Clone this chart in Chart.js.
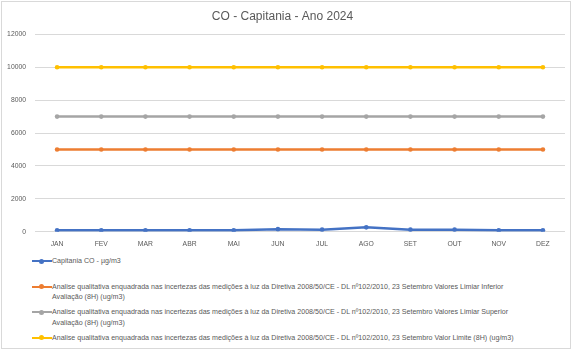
<!DOCTYPE html>
<html>
<head>
<meta charset="utf-8">
<script src="https://cdn.jsdelivr.net/npm/chart.js@4/dist/chart.umd.min.js"></script>
<style>
    html, body { margin: 0; padding: 0; background: #fff; }
    body { width: 576px; height: 350px; position: relative; overflow: hidden; }
    #frame {
        position: absolute; left: 1px; top: 1px;
        width: 568px; height: 346px;
        border: 1px solid #d9d9d9;
    }
    #coChart { position: absolute; left: 0; top: 0; }
    #legend {
        position: absolute; left: 32px; top: 256px; width: 530px;
        font-family: "Liberation Sans", sans-serif;
        font-size: 7.1px; color: #595959;
    }
    .legend-item { display: flex; height: 25.6px; }
    .legend-mark { position: relative; width: 20px; height: 10px; flex: none; }
    .legend-mark .line { position: absolute; left: 0; right: 0; top: 4px; height: 2px; }
    .legend-mark .dot { position: absolute; left: 7px; top: 2.5px; width: 5px; height: 5px; border-radius: 50%; }
    .legend-text { line-height: 10.5px; }
</style>
</head>
<body>
<div id="frame"></div>
<canvas id="coChart" width="576" height="252"></canvas>
<div id="legend"></div>

<script>
// **************************
//    DATA
// **************************
const months = ["JAN", "FEV", "MAR", "ABR", "MAI", "JUN", "JUL", "AGO", "SET", "OUT", "NOV", "DEZ"];

const capitaniaCO = [85, 85, 85, 85, 85, 155, 125, 265, 125, 125, 85, 85];
const limiarInferior = [5000, 5000, 5000, 5000, 5000, 5000, 5000, 5000, 5000, 5000, 5000, 5000];
const limiarSuperior = [7000, 7000, 7000, 7000, 7000, 7000, 7000, 7000, 7000, 7000, 7000, 7000];
const valorLimite = [10000, 10000, 10000, 10000, 10000, 10000, 10000, 10000, 10000, 10000, 10000, 10000];

const yTicks = [0, 2000, 4000, 6000, 8000, 10000, 12000];

const seriesNames = [
    ["Capitania CO - µg/m3"],
    ["Analise qualitativa enquadrada nas incertezas das medições à luz da Diretiva 2008/50/CE -  DL nº102/2010, 23 Setembro Valores Limiar Inferior",
     "Avaliação (8H) (ug/m3)"],
    ["Analise qualitativa enquadrada nas incertezas das medições à luz da Diretiva 2008/50/CE -  DL nº102/2010, 23 Setembro Valores Limiar Superior",
     "Avaliação (8H) (ug/m3)"],
    ["Analise qualitativa enquadrada nas incertezas das medições à luz da Diretiva 2008/50/CE -  DL nº102/2010, 23 Setembro Valor Limite (8H) (ug/m3)"]
];

const colors = ["#4472C4", "#ED7D31", "#A5A5A5", "#FFC000"];

const textColor = "#595959";
const fontFamily = "'Liberation Sans', sans-serif";

function makeSeries(name, data, color) {
    return {
        label: name,
        data: data,
        borderColor: color,
        backgroundColor: color,
        borderWidth: 2.5,
        pointRadius: 2.3,
        pointBorderWidth: 0,
        pointBackgroundColor: color,
        tension: 0
    };
}

// **************************
//    CHART
// **************************
const coChart = new Chart(document.getElementById("coChart"), {
    type: "line",
    data: {
        labels: months,
        datasets: [
            makeSeries(seriesNames[0], capitaniaCO, colors[0]),
            makeSeries(seriesNames[1], limiarInferior, colors[1]),
            makeSeries(seriesNames[2], limiarSuperior, colors[2]),
            makeSeries(seriesNames[3], valorLimite, colors[3])
        ]
    },
    options: {
        responsive: false,
        animation: false,
        layout: { padding: { left: 0, right: 11, top: 0, bottom: 0 } },
        plugins: {
            legend: { display: false },
            tooltip: { enabled: false },
            title: {
                display: true,
                text: "CO - Capitania - Ano 2024",
                color: textColor,
                font: { family: fontFamily, size: 12, weight: "normal" },
                padding: { top: 9, bottom: 11 }
            }
        },
        scales: {
            x: {
                offset: true,
                grid: { display: false, drawTicks: false },
                border: { display: false },
                ticks: { color: textColor, font: { family: fontFamily, size: 6.8 }, padding: 8 },
                afterFit: s => { s.height = 20.3; }
            },
            y: {
                min: 0,
                max: 12000,
                afterBuildTicks: s => { s.ticks = yTicks.map(v => ({ value: v })); },
                grid: { color: "#d9d9d9", drawTicks: false },
                border: { display: false },
                ticks: {
                    color: textColor,
                    font: { family: fontFamily, size: 6.8 },
                    padding: 9,
                    callback: v => String(v)
                },
                afterFit: s => { s.width = 35; }
            }
        }
    }
});

// **************************
//    LEGEND (below the plot)
// **************************
const legendBox = document.getElementById("legend");
coChart.data.datasets.forEach(ds => {
    const item = document.createElement("div");
    item.className = "legend-item";
    item.innerHTML =
        '<div class="legend-mark"><div class="line" style="background:' + ds.borderColor + '"></div>' +
        '<div class="dot" style="background:' + ds.borderColor + '"></div></div>' +
        '<div class="legend-text">' + ds.label.join("<br>") + '</div>';
    legendBox.appendChild(item);
});
</script>
</body>
</html>
